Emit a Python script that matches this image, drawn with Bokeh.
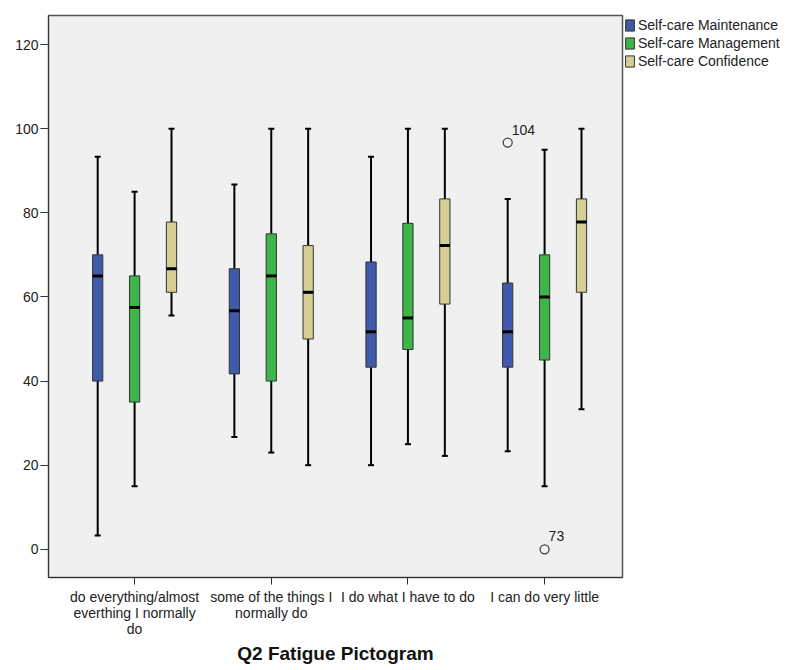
from bokeh.plotting import figure
from bokeh.models import Range1d, FixedTicker, Legend, LegendItem, ColumnDataSource
from bokeh.core.properties import value
from bokeh.embed import file_html
from bokeh.resources import INLINE

# Groups on the x axis
categories = [
    "do everything/almost\neverthing I normally\ndo",
    "some of the things I\nnormally do",
    "I do what I have to do",
    "I can do very little",
]
series_names = ["Self-care Maintenance", "Self-care Management", "Self-care Confidence"]
series_colors = ["#3f5aa8", "#3db54a", "#d6cf95"]

# Five-number summaries per series (one value per group)
maint_min = [3.3, 26.7, 20.0, 23.3]
maint_q1 = [40.0, 41.7, 43.3, 43.3]
maint_med = [65.0, 56.7, 51.7, 51.7]
maint_q3 = [70.0, 66.7, 68.3, 63.3]
maint_max = [93.3, 86.7, 93.3, 83.3]

manag_min = [15.0, 23.0, 25.0, 15.0]
manag_q1 = [35.0, 40.0, 47.5, 45.0]
manag_med = [57.5, 65.0, 55.0, 60.0]
manag_q3 = [65.0, 75.0, 77.5, 70.0]
manag_max = [85.0, 100.0, 100.0, 95.0]

conf_min = [55.6, 20.0, 22.2, 33.3]
conf_q1 = [61.1, 50.0, 58.3, 61.1]
conf_med = [66.7, 61.1, 72.2, 77.8]
conf_q3 = [77.8, 72.2, 83.3, 83.3]
conf_max = [100.0, 100.0, 100.0, 100.0]

# Outliers: (group index, series index, value, case label)
outlier_group = [3, 3]
outlier_series = [0, 1]
outlier_value = [96.7, 0.0]
outlier_label = ["104", "73"]

summaries = [
    (maint_min, maint_q1, maint_med, maint_q3, maint_max),
    (manag_min, manag_q1, manag_med, manag_q3, manag_max),
    (conf_min, conf_q1, conf_med, conf_q3, conf_max),
]

centers = [1, 2, 3, 4]
offsets = [-0.27, 0.0, 0.27]
box_w = 0.075
cap_w = 0.022
font = "Liberation Sans"

p = figure(
    frame_width=574, frame_height=562,
    x_range=Range1d(0.37, 4.57), y_range=Range1d(-6.7, 126.9),
    output_backend="svg", toolbar_location=None,
    min_border_left=48, min_border_right=0, min_border_top=15, min_border_bottom=0,
)
p.background_fill_color = "#f0f0f0"
p.border_fill_color = "white"
p.outline_line_color = "#555555"
p.outline_line_width = 1.5
p.xgrid.visible = False
p.ygrid.visible = False

legend_items = []
for s, (mn, q1, md, q3, mx) in enumerate(summaries):
    xs = [c + offsets[s] for c in centers]
    src = ColumnDataSource(dict(x=xs, mn=mn, q1=q1, md=md, q3=q3, mx=mx,
                                xl=[x - cap_w for x in xs], xr=[x + cap_w for x in xs],
                                ml=[x - box_w / 2 for x in xs], mr=[x + box_w / 2 for x in xs]))
    # whiskers
    p.segment(x0="x", y0="q3", x1="x", y1="mx", source=src, line_color="black", line_width=2)
    p.segment(x0="x", y0="q1", x1="x", y1="mn", source=src, line_color="black", line_width=2)
    # caps
    p.segment(x0="xl", y0="mx", x1="xr", y1="mx", source=src, line_color="black", line_width=2)
    p.segment(x0="xl", y0="mn", x1="xr", y1="mn", source=src, line_color="black", line_width=2)
    # boxes
    r = p.vbar(x="x", width=box_w, bottom="q1", top="q3", source=src,
               fill_color=series_colors[s], line_color="#333333", line_width=1)
    # medians
    p.segment(x0="ml", y0="md", x1="mr", y1="md", source=src, line_color="black", line_width=3)
    legend_items.append(LegendItem(label=series_names[s], renderers=[r]))

# outlier markers with case numbers
ox = [centers[g] + offsets[s] for g, s in zip(outlier_group, outlier_series)]
osrc = ColumnDataSource(dict(x=ox, y=outlier_value, t=outlier_label))
p.scatter(x="x", y="y", source=osrc, size=9, marker="circle", fill_color=None,
          line_color="#444444", line_width=1.3)
p.text(x="x", y="y", text="t", source=osrc, x_offset=4, y_offset=-8,
       text_font_size="14px", text_color="#222222", text_baseline="bottom",
       text_font=value(font))

# axes
p.yaxis.ticker = FixedTicker(ticks=[0, 20, 40, 60, 80, 100, 120])
p.yaxis.major_tick_in = 0
p.yaxis.major_tick_out = 8
p.yaxis.minor_tick_line_color = None
p.yaxis.axis_line_color = "#333333"
p.yaxis.major_tick_line_color = "#333333"
p.yaxis.major_label_standoff = 2
p.yaxis.major_label_text_font = font
p.yaxis.major_label_text_font_size = "14px"
p.yaxis.major_label_text_color = "#222222"

p.xaxis.ticker = FixedTicker(ticks=centers)
p.xaxis.major_label_overrides = {c: lab for c, lab in zip(centers, categories)}
p.xaxis.major_tick_in = 0
p.xaxis.major_tick_out = 7
p.xaxis.minor_tick_line_color = None
p.xaxis.axis_line_color = "#333333"
p.xaxis.major_tick_line_color = "#333333"
p.xaxis.major_label_text_font = font
p.xaxis.major_label_text_font_size = "14px"
p.xaxis.major_label_text_line_height = 1.0
p.xaxis.major_label_text_color = "#222222"
p.xaxis.major_label_standoff = 4
p.xaxis.axis_label = "Q2 Fatigue Pictogram"
p.xaxis.axis_label_text_font = font
p.xaxis.axis_label_text_font_style = "bold"
p.xaxis.axis_label_text_font_size = "19px"
p.xaxis.axis_label_text_color = "#111111"
p.xaxis.axis_label_standoff = 3

legend = Legend(items=legend_items, location="top_left")
legend.border_line_color = None
legend.background_fill_alpha = 0
legend.label_text_font = font
legend.label_text_font_size = "14px"
legend.label_text_color = "#222222"
legend.glyph_width = 11
legend.glyph_height = 14
legend.spacing = 2
legend.label_standoff = 3
legend.padding = 0
legend.margin = 2
legend.label_height = 14
p.add_layout(legend, "right")

open("out.html", "w").write(file_html(p, INLINE))
